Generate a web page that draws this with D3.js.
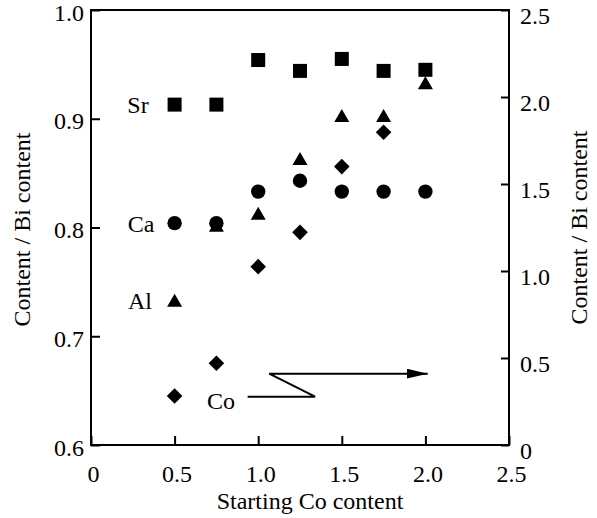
<!DOCTYPE html>
<html>
<head>
<meta charset="utf-8">
<script src="https://cdn.jsdelivr.net/npm/d3@7"></script>
<style>
  html, body { margin: 0; padding: 0; background: #fff; }
  svg { display: block; }
  text { font-family: "Liberation Serif", "Times New Roman", serif; fill: #000; }
</style>
</head>
<body>
<svg id="chart" width="597" height="518"></svg>
<script>
// ---- data ----
const startingCo = [0.5, 0.75, 1.0, 1.25, 1.5, 1.75, 2.0];
const srValues = [0.913, 0.913, 0.954, 0.944, 0.955, 0.944, 0.945];
const caValues = [0.804, 0.804, 0.833, 0.843, 0.833, 0.833, 0.833];
const alValues = [0.733, 0.802, 0.813, 0.8635, 0.903, 0.903, 0.933];
const coX = [0.5, 0.75, 1.0, 1.25, 1.5, 1.75];
const coValues = [0.282, 0.470, 1.025, 1.222, 1.60, 1.797]; // right axis
const xTicks = [0, 0.5, 1.0, 1.5, 2.0, 2.5];
const yLeftTicks = [0.6, 0.7, 0.8, 0.9, 1.0];
const yRightTicks = [0, 0.5, 1.0, 1.5, 2.0, 2.5];
const seriesLabels = ["Sr", "Ca", "Al", "Co"];
const labelX = [0.345, 0.38, 0.365, 0.862];
const labelY = [0.913, 0.804, 0.733, 0.641]; // left-axis units
// arrow annotation from "Co" to the right axis (x units, right-axis units)
const arrowX = [0.937, 1.34, 1.066, 2.014];
const arrowY = [0.278, 0.278, 0.41, 0.41];
const xTitle = "Starting Co content";
const yTitle = "Content / Bi content";

// ---- layout ----
const svg = d3.select("#chart");
const L = 91, R = 509, T = 10, B = 445;
const x = d3.scaleLinear().domain([0, 2.5]).range([L, R]);
const yL = d3.scaleLinear().domain([0.6, 1.0]).range([B, T]);
const yR = d3.scaleLinear().domain([0, 2.5]).range([B, T]);
const fmt = d => d === 0 ? "0" : d3.format(".1f")(d);
const FS = 24;

// axes
const gx = svg.append("g").attr("transform", `translate(0,${B})`)
  .call(d3.axisBottom(x).tickValues(xTicks).tickFormat(fmt).tickSizeInner(-9).tickSizeOuter(0).tickPadding(20));
const gl = svg.append("g").attr("transform", `translate(${L},0)`)
  .call(d3.axisLeft(yL).tickValues(yLeftTicks).tickFormat(d3.format(".1f")).tickSizeInner(-9).tickSizeOuter(0).tickPadding(7));
const gr = svg.append("g").attr("transform", `translate(${R},0)`)
  .call(d3.axisRight(yR).tickValues(yRightTicks).tickFormat(fmt).tickSizeInner(-8).tickSizeOuter(0).tickPadding(11));

[gx, gl, gr].forEach(g => {
  g.attr("font-family", "Liberation Serif, serif").attr("font-size", FS);
  g.select(".domain").remove();
  g.selectAll(".tick line").attr("stroke", "#000").attr("stroke-width", 2);
  g.selectAll(".tick text").attr("font-size", FS).attr("fill", "#000");
});
gx.selectAll(".tick text").attr("dx", 2);
gl.selectAll(".tick text").attr("dy", "0.42em");
gr.selectAll(".tick text").attr("dy", "0.58em");

// frame
svg.append("rect").attr("x", L).attr("y", T).attr("width", R - L).attr("height", B - T)
  .attr("fill", "none").attr("stroke", "#000").attr("stroke-width", 2);

// titles
svg.append("text").attr("x", (L + R) / 2 + 10).attr("y", 509).attr("text-anchor", "middle")
  .attr("font-size", FS).text(xTitle);
svg.append("text").attr("transform", `translate(30,${(T + B) / 2 + 2}) rotate(-90)`)
  .attr("text-anchor", "middle").attr("font-size", FS).text(yTitle);
svg.append("text").attr("transform", `translate(587,${(T + B) / 2}) rotate(-90)`)
  .attr("text-anchor", "middle").attr("font-size", FS).text(yTitle);

// markers
const plot = svg.append("g");
const sq = 14;
plot.selectAll(".sr").data(startingCo.map((d, i) => [d, srValues[i]])).join("rect")
  .attr("x", d => x(d[0]) - sq / 2).attr("y", d => yL(d[1]) - sq / 2)
  .attr("width", sq).attr("height", sq).attr("fill", "#000");
const triPath = (cx, cy) => `M${cx},${cy - 6.5}L${cx + 7.5},${cy + 6.5}L${cx - 7.5},${cy + 6.5}Z`;
plot.selectAll(".al").data(startingCo.map((d, i) => [d, alValues[i]])).join("path")
  .attr("d", d => triPath(x(d[0]), yL(d[1]))).attr("fill", "#000");
plot.selectAll(".ca").data(startingCo.map((d, i) => [d, caValues[i]])).join("circle")
  .attr("cx", d => x(d[0])).attr("cy", d => yL(d[1])).attr("r", 7.2).attr("fill", "#000");
const diaPath = (cx, cy) => `M${cx},${cy - 7.8}L${cx + 7.8},${cy}L${cx},${cy + 7.8}L${cx - 7.8},${cy}Z`;
plot.selectAll(".co").data(coX.map((d, i) => [d, coValues[i]])).join("path")
  .attr("d", d => diaPath(x(d[0]), yR(d[1]))).attr("fill", "#000");

// series labels
plot.selectAll(".lab").data(seriesLabels).join("text")
  .attr("x", (d, i) => x(labelX[i])).attr("y", (d, i) => yL(labelY[i]))
  .attr("dy", "0.35em").attr("text-anchor", "end").attr("font-size", FS).text(d => d);

// arrow
svg.append("defs").append("marker").attr("id", "ah")
  .attr("viewBox", "0 0 21 10").attr("refX", 21).attr("refY", 5)
  .attr("markerWidth", 21).attr("markerHeight", 10).attr("markerUnits", "userSpaceOnUse")
  .attr("orient", "auto")
  .append("path").attr("d", "M0,0L21,5L0,10Z").attr("fill", "#000");
svg.append("path")
  .attr("d", d3.line()(arrowX.map((d, i) => [x(d), yR(arrowY[i])])))
  .attr("fill", "none").attr("stroke", "#000").attr("stroke-width", 2)
  .attr("marker-end", "url(#ah)");
</script>
</body>
</html>
